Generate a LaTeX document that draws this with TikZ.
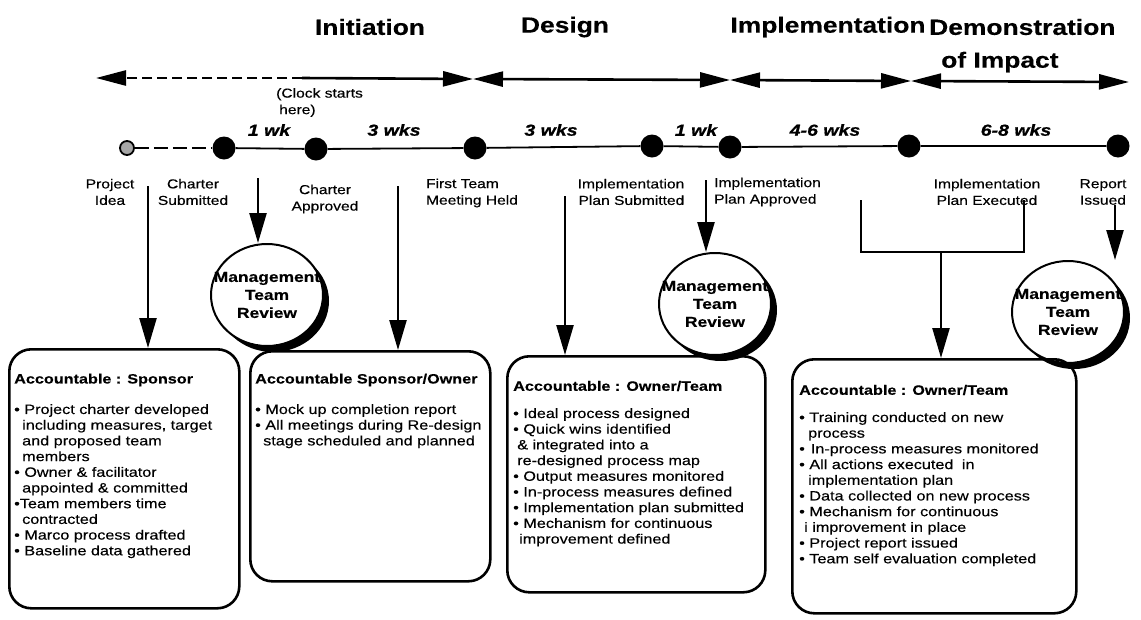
\documentclass[tikz,border=0pt]{standalone}
\usepackage{fontspec}
\setmainfont{Liberation Sans}[FakeStretch=1.2, FakeBold=0.35]
\newfontfamily\durfont{Liberation Sans}[FakeStretch=1.22, FakeBold=0.8]
\usetikzlibrary{arrows.meta,shapes.geometric}
\begin{document}
\begin{tikzpicture}[x=1pt,y=-1pt,
  phase/.style={font=\bfseries\fontsize{22}{26}\selectfont, inner sep=0},
  dur/.style={font=\durfont\bfseries\itshape\fontsize{16}{18}\selectfont, inner sep=0},
  lbl/.style={font=\fontsize{13}{16.5}\selectfont, align=center, inner sep=0},
  dotn/.style={circle, fill=black, minimum size=23pt, inner sep=0},
  bigarrow/.style={line width=2.4pt, -{Triangle[length=30pt,width=17pt]}},
  phasetip/.style={line width=2.6pt},
  boxn/.style={draw, line width=2.6pt, rounded corners=22pt, anchor=north west, inner sep=0},
  btitle/.style={font=\bfseries\fontsize{13.5}{15}\selectfont, anchor=west, inner sep=0},
  btext/.style={font=\fontsize{13.5}{15.7}\selectfont, align=left, anchor=north west, inner sep=0},
  mshadow/.style={ellipse, fill=black, minimum width=112pt, minimum height=102pt, inner sep=0},
  mcircle/.style={ellipse, draw, fill=white, line width=2pt, minimum width=112pt, minimum height=102pt, inner sep=0},
  mtext/.style={font=\bfseries\fontsize{14.5}{18}\selectfont, align=center, inner sep=0}
]
\useasboundingbox (0,0) rectangle (1141,619);
\def\tipT{Triangle[length=30pt,width=15pt]}

% phase titles
\node[phase] (tInit) at (370,27) {Initiation};
\node[phase] (tDes) at (565,27) {Design};
\node[phase] (tImp) at (828,27) {Implementation};
\node[phase, anchor=west] (tDem) at (929,27) {Demonstration};
\node[phase, anchor=west] (tImpact) at (941,62) {of Impact};

% phase arrow line
\coordinate (pL) at (96,78);
\coordinate (pC) at (302,78);
\coordinate (pB1) at (473,79);
\coordinate (pB2) at (730,80);
\coordinate (pB3) at (911,81);
\coordinate (pR) at (1129,82);
\draw[phasetip, dash pattern=on 10pt off 5pt, -{\tipT}] (pC) -- (pL);
\draw[phasetip, -{\tipT}] (pC) -- (pB1);
\draw[phasetip, {\tipT}-{\tipT}] (pB1) -- (pB2);
\draw[phasetip, {\tipT}-{\tipT}] (pB2) -- (pB3);
\draw[phasetip, {\tipT}-{\tipT}] (pB3) -- (pR);
\node[lbl, align=left, anchor=north west] (clock) at (276,88) {(Clock starts\\\hspace*{3pt}here)};

% timeline
\node[circle, draw, line width=1.8pt, fill=gray!70, minimum size=14pt, inner sep=0] (d0) at (127,148) {};
\node[dotn] (d1) at (224,148) {};
\node[dotn] (d2) at (316,149) {};
\node[dotn] (d3) at (475,148) {};
\node[dotn] (d4) at (652,146) {};
\node[dotn] (d5) at (730,147) {};
\node[dotn] (d6) at (909,146) {};
\node[dotn] (d7) at (1118,146) {};
\draw[line width=1.4pt, dash pattern=on 14pt off 5pt] (d0) -- (d1);
\draw[line width=1.8pt] (d1) -- (d2) -- (d3) -- (d4) -- (d5) -- (d6) -- (d7);

% durations
\node[dur] (w1) at (269,130) {1 wk};
\node[dur] (w2) at (394,130) {3 wks};
\node[dur] (w3) at (551,130) {3 wks};
\node[dur] (w4) at (696,130) {1 wk};
\node[dur] (w5) at (825,130) {4-6 wks};
\node[dur] (w6) at (1016,130) {6-8 wks};

% milestone labels
\node[lbl] (l0) at (110,192) {Project\\Idea};
\node[lbl] (l1) at (193,192) {Charter\\Submitted};
\node[lbl] (l2) at (325,199) {Charter\\Approved};
\node[lbl, align=left] (l3) at (472,193) {First Team\\Meeting Held};
\node[lbl, align=right] (l4) at (631,192) {Implementation\\Plan Submitted};
\node[lbl, align=left, anchor=west] (l5) at (714,192) {Implementation\\Plan Approved};
\node[lbl] (l6) at (987,192) {Implementation\\Plan Executed};
\node[lbl] (l7) at (1103,192) {Report\\Issued};

% management review circles
\node[mshadow] (s1) at (273,301) {};
\node[mcircle] (m1) at (267,295) {};
\node[mtext] (mt1) at (267,295) {Management\\Team\\Review};
\node[mshadow] (s2) at (721,310) {};
\node[mcircle] (m2) at (715,304) {};
\node[mtext] (mt2) at (715,304) {Management\\Team\\Review};
\node[mshadow] (s3) at (1074,318) {};
\node[mcircle] (m3) at (1068,312) {};
\node[mtext] (mt3) at (1068,312) {Management\\Team\\Review};

% boxes
\node[boxn, minimum width=230pt, minimum height=259pt] (b1) at (8,348) {};
\node[boxn, minimum width=240pt, minimum height=230pt] (b2) at (249,350) {};
\node[boxn, minimum width=258pt, minimum height=236pt] (b3) at (506,355) {};
\node[boxn, minimum width=284pt, minimum height=254pt] (b4) at (791,358) {};

\node[btitle] (bt1) at (14,380) {Accountable : Sponsor};
\node[btitle] (bt2) at (255,380) {Accountable Sponsor/Owner};
\node[btitle] (bt3) at (513,386) {Accountable : Owner/Team};
\node[btitle] (bt4) at (799,390) {Accountable : Owner/Team};

\node[btext] (bx1) at (14,404) {• Project charter developed\\
\hspace*{8pt}including measures, target\\
\hspace*{8pt}and proposed team\\
\hspace*{8pt}members\\
• Owner \& facilitator\\
\hspace*{8pt}appointed \& committed\\
•Team members time\\
\hspace*{8pt}contracted\\
• Marco process drafted\\
• Baseline data gathered};

\node[btext] (bx2) at (255,404) {• Mock up completion report\\
• All meetings during Re-design\\
\hspace*{8pt}stage scheduled and planned};

\node[btext] (bx3) at (513,408) {• Ideal process designed\\
• Quick wins identified\\
\hspace*{4pt}\& integrated into a\\
\hspace*{4pt}re-designed process map\\
• Output measures monitored\\
• In-process measures defined\\
• Implementation plan submitted\\
• Mechanism for continuous\\
\hspace*{6pt}improvement defined};

\node[btext] (bx4) at (799,412) {• Training conducted on new\\
\hspace*{9pt}process\\
•\hspace*{6pt}In-process measures monitored\\
• All actions executed\hspace*{4pt} in\\
\hspace*{9pt}implementation plan\\
• Data collected on new process\\
• Mechanism for continuous\\
\hspace*{5pt}i improvement in place\\
• Project report issued\\
• Team self evaluation completed};

% arrows
\coordinate (a1) at (148,186);
\draw[bigarrow] (a1) -- (a1 |- b1.north);
\coordinate (a2) at (258,178);
\draw[bigarrow] (a2) -- (a2 |- m1.north);
\coordinate (a3) at (398,186);
\draw[bigarrow] (a3) -- (a3 |- b2.north);
\coordinate (a4) at (565,196);
\draw[bigarrow] (a4) -- (a4 |- b3.north);
\coordinate (a5) at (706,180);
\draw[bigarrow] (a5) -- (a5 |- m2.north);
\coordinate (k1) at (861,200);
\coordinate (k2) at (1024,200);
\coordinate (k3) at (941,252);
\draw[line width=2.4pt] (k1) |- (k3) -| (k2);
\draw[bigarrow] (k3) -- (k3 |- b4.north);
\coordinate (a7) at (1115,205);
\draw[bigarrow] (a7) -- (a7 |- m3.north);
\end{tikzpicture}
\end{document}
